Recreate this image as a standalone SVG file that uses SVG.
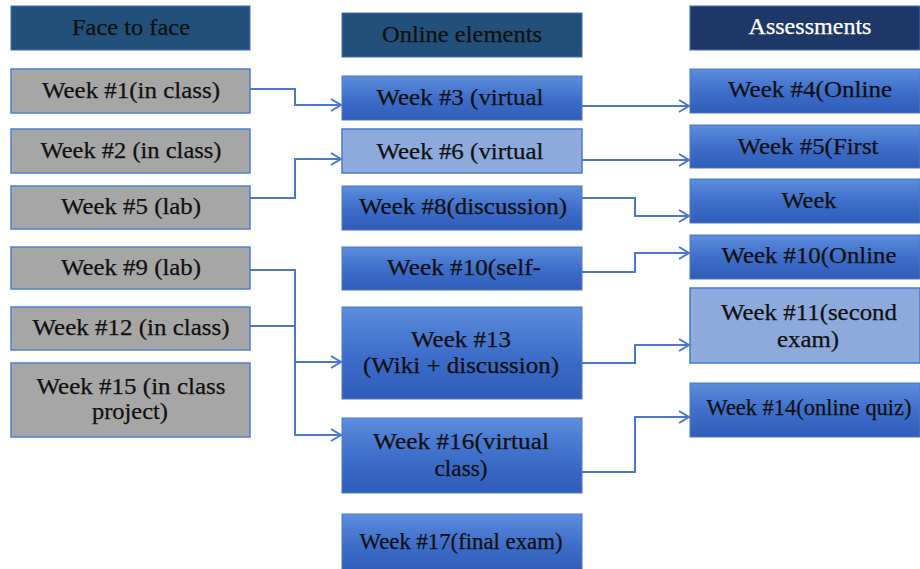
<svg xmlns="http://www.w3.org/2000/svg" width="920" height="569" viewBox="0 0 920 569">
<defs>
<linearGradient id="blueGrad" x1="0" y1="0" x2="0" y2="1">
<stop offset="0" stop-color="#5d8ddb"/>
<stop offset="0.5" stop-color="#3f6fcb"/>
<stop offset="1" stop-color="#2f5cb8"/>
</linearGradient>
<marker id="arrow" markerWidth="14" markerHeight="14" refX="11" refY="7" orient="auto" markerUnits="userSpaceOnUse">
<path d="M1,1 L11,7 L1,13" fill="none" stroke="#4a78cc" stroke-width="2"/>
</marker>
</defs>
<style>
text{font-family:"Liberation Serif","Times New Roman",serif;font-size:22.5px;fill:#111;stroke:#111;stroke-width:0.25;text-anchor:middle}
.hdr1{fill:#22507b;stroke:#3f6fbf;stroke-width:1}
.hdr3{fill:#1f3766;stroke:#3f6fbf;stroke-width:1}
.gray{fill:#a6a6a6;stroke:#4f7fd0;stroke-width:1.5}
.blue{fill:url(#blueGrad);stroke:#4a78cc;stroke-width:1}
.light{fill:#8eaadc;stroke:#4a78cc;stroke-width:1.5}
text.white{fill:#fff;stroke:#fff}
.conn path{fill:none;stroke:#4a78cc;stroke-width:2}
</style>
<rect width="920" height="569" fill="#fff"/>

<g id="hdr-face">
<rect class="hdr1" x="11" y="6" width="239" height="44"/>
<text x="131" y="35" textLength="118" lengthAdjust="spacingAndGlyphs">Face to face</text>
</g>
<g id="hdr-online">
<rect class="hdr1" x="342" y="13" width="240" height="44"/>
<text x="462" y="42" textLength="160" lengthAdjust="spacingAndGlyphs">Online elements</text>
</g>
<g id="hdr-assess">
<rect class="hdr3" x="690" y="6" width="230" height="44"/>
<text class="white" x="810" y="34" textLength="123" lengthAdjust="spacingAndGlyphs">Assessments</text>
</g>

<g id="f1"><rect class="gray" x="11" y="69" width="239" height="44"/><text x="131" y="98" textLength="178" lengthAdjust="spacingAndGlyphs">Week #1(in class)</text></g>
<g id="f2"><rect class="gray" x="11" y="129" width="239" height="44"/><text x="131" y="158" textLength="181" lengthAdjust="spacingAndGlyphs">Week #2 (in class)</text></g>
<g id="f5"><rect class="gray" x="11" y="186" width="239" height="43"/><text x="131" y="214" textLength="140" lengthAdjust="spacingAndGlyphs">Week #5 (lab)</text></g>
<g id="f9"><rect class="gray" x="11" y="247" width="239" height="42"/><text x="131" y="275" textLength="140" lengthAdjust="spacingAndGlyphs">Week #9 (lab)</text></g>
<g id="f12"><rect class="gray" x="11" y="307" width="239" height="43"/><text x="131" y="335" textLength="197" lengthAdjust="spacingAndGlyphs">Week #12 (in class)</text></g>
<g id="f15"><rect class="gray" x="11" y="363" width="239" height="74"/><text x="131" y="394" textLength="189" lengthAdjust="spacingAndGlyphs">Week #15 (in class</text><text x="130" y="419" textLength="76" lengthAdjust="spacingAndGlyphs">project)</text></g>

<g id="o3"><rect class="blue" x="342" y="76" width="240" height="44"/><text x="460" y="105" textLength="167" lengthAdjust="spacingAndGlyphs">Week #3 (virtual</text></g>
<g id="o6"><rect class="light" x="342" y="129" width="240" height="44"/><text x="460" y="159" textLength="167" lengthAdjust="spacingAndGlyphs">Week #6 (virtual</text></g>
<g id="o8"><rect class="blue" x="342" y="186" width="240" height="44"/><text x="463" y="214" textLength="208" lengthAdjust="spacingAndGlyphs">Week #8(discussion)</text></g>
<g id="o10"><rect class="blue" x="342" y="247" width="240" height="43"/><text x="464" y="275" textLength="154" lengthAdjust="spacingAndGlyphs">Week #10(self-</text></g>
<g id="o13"><rect class="blue" x="342" y="307" width="240" height="92"/><text x="461" y="347" textLength="100" lengthAdjust="spacingAndGlyphs">Week #13</text><text x="461" y="373" textLength="196" lengthAdjust="spacingAndGlyphs">(Wiki + discussion)</text></g>
<g id="o16"><rect class="blue" x="342" y="418" width="240" height="75"/><text x="461" y="449" textLength="176" lengthAdjust="spacingAndGlyphs">Week #16(virtual</text><text x="461" y="476" textLength="53" lengthAdjust="spacingAndGlyphs">class)</text></g>
<g id="o17"><rect class="blue" x="342" y="514" width="240" height="58"/><text x="461" y="549" textLength="203" lengthAdjust="spacingAndGlyphs">Week #17(final exam)</text></g>

<g id="a4"><rect class="blue" x="690" y="69" width="230" height="44"/><text x="810" y="97" textLength="164" lengthAdjust="spacingAndGlyphs">Week #4(Online</text></g>
<g id="a5"><rect class="blue" x="690" y="125" width="230" height="43"/><text x="808" y="154" textLength="141" lengthAdjust="spacingAndGlyphs">Week #5(First</text></g>
<g id="aw"><rect class="blue" x="690" y="179" width="230" height="44"/><text x="809" y="208" textLength="55" lengthAdjust="spacingAndGlyphs">Week</text></g>
<g id="a10"><rect class="blue" x="690" y="235" width="230" height="44"/><text x="809" y="263" textLength="175" lengthAdjust="spacingAndGlyphs">Week #10(Online</text></g>
<g id="a11"><rect class="light" x="690" y="288" width="230" height="75"/><text x="809" y="320" textLength="176" lengthAdjust="spacingAndGlyphs">Week #11(second</text><text x="808" y="347" textLength="62" lengthAdjust="spacingAndGlyphs">exam)</text></g>
<g id="a14"><rect class="blue" x="690" y="383" width="230" height="54"/><text x="809" y="415" textLength="205" lengthAdjust="spacingAndGlyphs">Week #14(online quiz)</text></g>

<g id="connectors" class="conn">
<path d="M250,89 H295 V105 H341" marker-end="url(#arrow)"/>
<path d="M250,198 H295 V159 H341" marker-end="url(#arrow)"/>
<path d="M582,106 H689" marker-end="url(#arrow)"/>
<path d="M582,160 H689" marker-end="url(#arrow)"/>
<path d="M582,198 H635 V216 H689" marker-end="url(#arrow)"/>
<path d="M582,272 H635 V253 H689" marker-end="url(#arrow)"/>
<path d="M582,363 H635 V345 H689" marker-end="url(#arrow)"/>
<path d="M582,472 H635 V417 H689" marker-end="url(#arrow)"/>
<path d="M250,270 H295"/>
<path d="M250,326 H295"/>
<path d="M295,269 V436"/>
<path d="M295,362 H341" marker-end="url(#arrow)"/>
<path d="M295,435 H341" marker-end="url(#arrow)"/>
</g>
</svg>
